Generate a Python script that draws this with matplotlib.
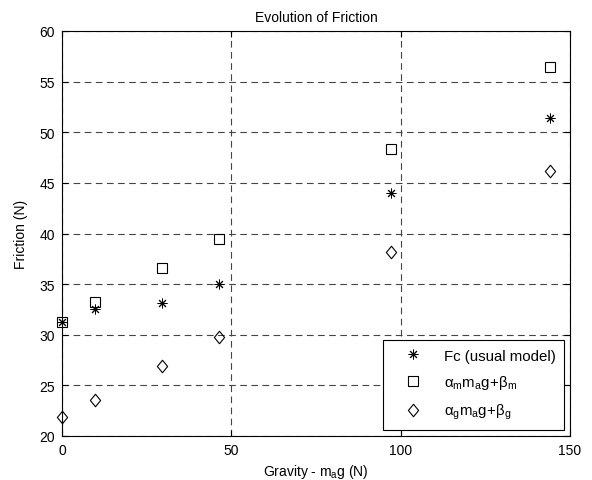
import matplotlib
matplotlib.use("Agg")
import matplotlib.pyplot as plt
from matplotlib.path import Path

plt.rcParams['font.family'] = ['Liberation Sans', 'DejaVu Sans']
plt.rcParams['mathtext.fontset'] = 'custom'
plt.rcParams['mathtext.rm'] = 'Liberation Sans'
plt.rcParams['mathtext.it'] = 'Liberation Sans'
plt.rcParams['mathtext.bf'] = 'Liberation Sans'
plt.rcParams['font.size'] = 10

gravity = [0, 9.8, 29.4, 46.5, 97.0, 144.1]
fc_usual = [31.3, 32.5, 33.1, 35.0, 44.0, 51.4]
model_m = [31.3, 33.2, 36.6, 39.5, 48.3, 56.4]
model_g = [21.9, 23.6, 26.9, 29.8, 38.2, 46.2]

labels = ['Fc (usual model)',
          r'$\mathrm{\alpha_m m_a g\!+\!\beta_m}$',
          r'$\mathrm{\alpha_g m_a g\!+\!\beta_g}$']

diamond = Path([(0, 1), (0.82, 0), (0, -1), (-0.82, 0), (0, 1)],
               [Path.MOVETO, Path.LINETO, Path.LINETO, Path.LINETO, Path.CLOSEPOLY])

fig = plt.figure(figsize=(5.92, 4.81), dpi=100)
ax = fig.add_axes([62/592, 1-437/481, 508/592, 405/481])

ax.plot(gravity, fc_usual, linestyle='none', marker=(8, 2, 0), markersize=7,
        color='k', markeredgewidth=0.7, label=labels[0], clip_on=False, zorder=3)
ax.plot(gravity, model_m, linestyle='none', marker='s', markersize=7,
        markerfacecolor='none', markeredgecolor='k', markeredgewidth=0.8,
        label=labels[1], clip_on=False, zorder=3)
ax.plot(gravity, model_g, linestyle='none', marker=diamond, markersize=9,
        markerfacecolor='none', markeredgecolor='k', markeredgewidth=0.8,
        label=labels[2], clip_on=False, zorder=3)

ax.set_xlim(0, 150)
ax.set_ylim(20, 60)
ax.set_xticks([0, 50, 100, 150])
ax.set_yticks(range(20, 61, 5))
ax.grid(True, color='#444444', linestyle=(0, (6, 4)), linewidth=0.8)
ax.tick_params(direction='in', top=True, right=True, length=4, width=0.8,
               labelsize=10, pad=5)
for s in ax.spines.values():
    s.set_linewidth(0.8)

ax.set_title('Evolution of Friction', fontsize=10, pad=7)
ax.set_xlabel(r'Gravity - m$_\mathrm{a}$g (N)', fontsize=10, labelpad=4)
ax.set_ylabel('Friction (N)', fontsize=10, labelpad=8)

leg = ax.legend(loc='lower right', fancybox=False, edgecolor='k', framealpha=1,
                fontsize=10.8, borderaxespad=0.42, handlelength=2.9,
                handletextpad=0.62, labelspacing=0.72, borderpad=0.55)
leg.get_frame().set_linewidth(0.8)

fig.savefig('out.png', dpi=100)
